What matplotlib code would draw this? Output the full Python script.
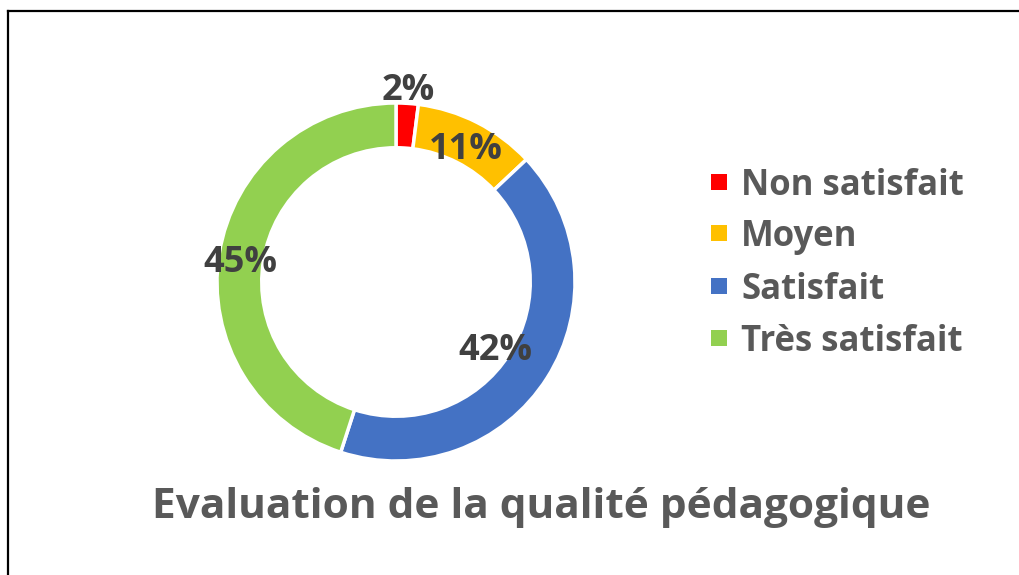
import matplotlib.pyplot as plt
from matplotlib.lines import Line2D
from matplotlib.patches import Rectangle
import numpy as np

# data
categories = ["Non satisfait", "Moyen", "Satisfait", "Très satisfait"]
values = [2, 11, 42, 45]
colors = ["#FF0000", "#FFC000", "#4472C4", "#92D050"]
title = "Evaluation de la qualité pédagogique"

plt.rcParams['font.family'] = ['Open Sans', 'DejaVu Sans']

W, H = 1019, 575
fig = plt.figure(figsize=(W/100, H/100), dpi=100)

# donut axes: center (396,282) px, radius 179 px, limits +-1.25
R = 179
cx, cy = 396, H - 282
half = 1.25*R
ax = fig.add_axes([(cx-half)/W, (cy-half)/H, 2*half/W, 2*half/H])
wedges, _ = ax.pie(values, colors=colors, startangle=90, counterclock=False,
                   radius=1.0, wedgeprops=dict(width=0.25, edgecolor="white", linewidth=2.5))
ax.set_xlim(-1.25, 1.25)
ax.set_ylim(-1.25, 1.25)
ax.set_aspect("equal")
ax.axis("off")

# percentage labels
label_r = [1.10, 0.86, 0.66, 0.88]
for w, v, r in zip(wedges, values, label_r):
    ang = np.deg2rad((w.theta1 + w.theta2)/2)
    ax.annotate(f"{v}%", (r*np.cos(ang), r*np.sin(ang)), xytext=(0, -4),
                textcoords="offset points", ha="center", va="center",
                fontsize=26, fontweight="bold", color="#404040")

# legend
rows_y = [182, 233, 286, 338]
for name, col, y in zip(categories, colors, rows_y):
    fig.patches.append(Rectangle(((711)/W, (H-y-8)/H), 16/W, 16/H,
                                 transform=fig.transFigure, facecolor=col, edgecolor="none"))
    fig.text(741/W, (H-y-4)/H, name, ha="left", va="center", fontsize=25,
             fontweight="bold", color="#595959")

# title
fig.text(541/W, 1-508/H, title, ha="center", va="center", fontsize=30.5,
         fontweight="bold", color="#595959")

# frame lines (top and left)
fig.add_artist(Line2D([7.5/W, 1], [1-10.5/H, 1-10.5/H], color="black", lw=1.6, transform=fig.transFigure))
fig.add_artist(Line2D([7.5/W, 7.5/W], [0, 1-10.5/H], color="black", lw=1.6, transform=fig.transFigure))

fig.savefig("out.png", dpi=100)
